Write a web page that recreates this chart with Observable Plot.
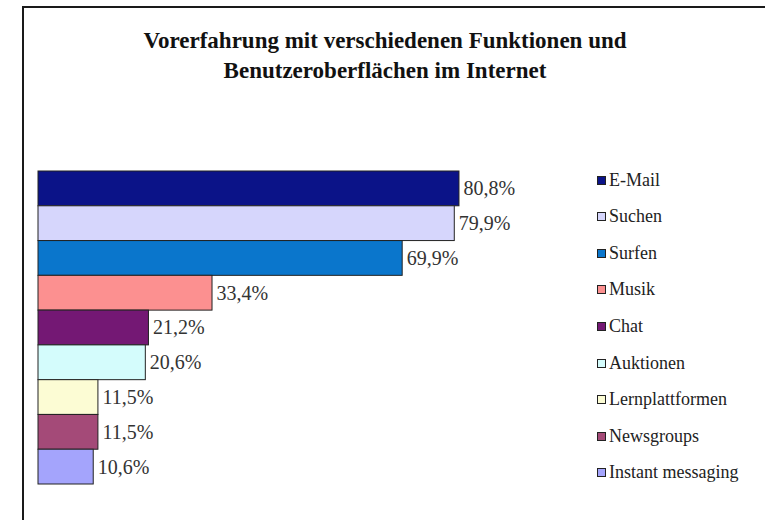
<!DOCTYPE html>
<html>
<head>
<meta charset="utf-8">
<script src="https://cdn.jsdelivr.net/npm/d3@7"></script>
<script src="https://cdn.jsdelivr.net/npm/@observablehq/plot@0.6"></script>
<style>
  body { margin: 0; background: #fff; }
  #wrap { position: relative; width: 765px; height: 520px; overflow: hidden; background: #fff; font-family: "Liberation Serif", "Times New Roman", serif; }
  #frameL { position: absolute; left: 22px; top: 6px; width: 2px; height: 520px; background: #1a1a1a; }
  #frameT { position: absolute; left: 22px; top: 6px; width: 760px; height: 2px; background: #1a1a1a; }
  #title { position: absolute; left: 0; width: 770px; top: 26px; text-align: center; font-weight: bold; font-size: 23px; line-height: 30px; color: #111; }
  #plot { position: absolute; left: 0; top: 0; }
  #legend { position: absolute; left: 0; top: 0; }
  .li { position: absolute; left: 597px; height: 20px; display: flex; align-items: center; font-size: 18px; color: #222; white-space: nowrap; }
  .sw { width: 7px; height: 7px; border: 1px solid #222; margin-right: 3px; }
</style>
</head>
<body>
<div id="wrap">
  <div id="frameL"></div>
  <div id="frameT"></div>
  <div id="title">Vorerfahrung mit verschiedenen Funktionen und<br>Benutzeroberflächen im Internet</div>
  <div id="plot"></div>
  <div id="legend"></div>
</div>
<script>
const categories = ["E-Mail", "Suchen", "Surfen", "Musik", "Chat", "Auktionen", "Lernplattformen", "Newsgroups", "Instant messaging"];
const values = [80.8, 79.9, 69.9, 33.4, 21.2, 20.6, 11.5, 11.5, 10.6];
const colors = ["#0b1388", "#d6d6fc", "#0a76cc", "#fc9090", "#741874", "#d4fcfc", "#fcfcd4", "#a44a78", "#a4a4fc"];

const data = categories.map((c, i) => ({ cat: c, value: values[i], color: colors[i] }));
const fmt = v => v.toFixed(1).replace(".", ",") + "%";

const chart = Plot.plot({
  width: 765,
  height: 520,
  marginLeft: 38,
  marginRight: 206,
  marginTop: 171,
  marginBottom: 36,
  x: { domain: [0, 100], axis: null },
  y: { domain: categories, axis: null, padding: 0, round: false },
  style: { background: "transparent", fontFamily: "'Liberation Serif', serif" },
  marks: [
    Plot.barX(data, { x: "value", y: "cat", fill: "color", stroke: "#222", strokeWidth: 1 }),
    Plot.text(data, { x: "value", y: "cat", text: d => fmt(d.value), textAnchor: "start", dx: 4, fontSize: 20, fill: "#333", fontFamily: "'Liberation Serif', serif" })
  ]
});
document.getElementById("plot").appendChild(chart);

const legend = document.getElementById("legend");
categories.forEach((c, i) => {
  const row = document.createElement("div");
  row.className = "li";
  row.style.top = (170 + i * 36.6) + "px";
  const sw = document.createElement("div");
  sw.className = "sw";
  sw.style.background = colors[i];
  const t = document.createElement("span");
  t.textContent = c;
  row.appendChild(sw);
  row.appendChild(t);
  legend.appendChild(row);
});
</script>
</body>
</html>
